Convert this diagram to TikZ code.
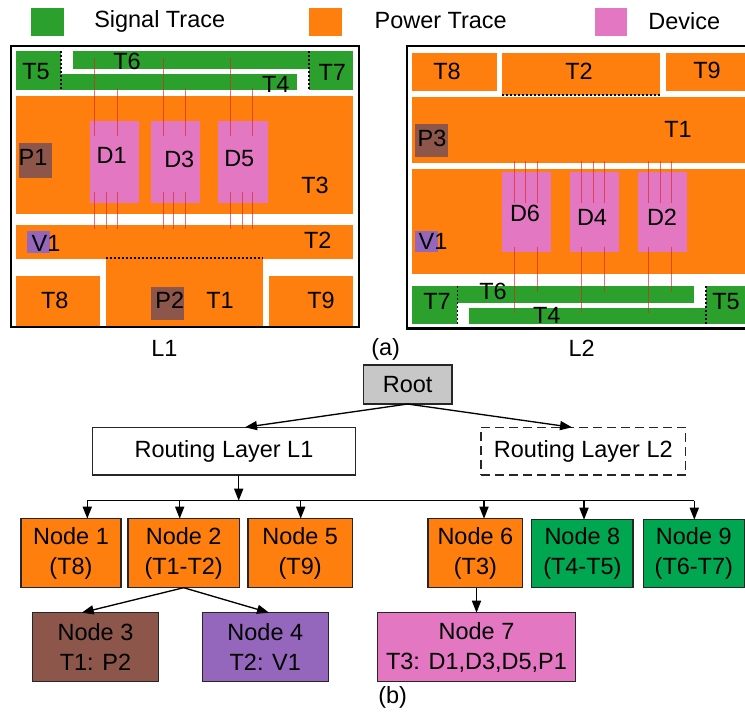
\documentclass[tikz,border=0pt]{standalone}
\usepackage{fontspec}
\setmainfont{Liberation Sans}
\usetikzlibrary{arrows.meta}
\definecolor{sig}{HTML}{2CA02C}
\definecolor{pow}{HTML}{FF7F0E}
\definecolor{dev}{HTML}{E377C2}
\definecolor{pad}{HTML}{8C564B}
\definecolor{via}{HTML}{9467BD}
\definecolor{nodegreen}{HTML}{00A650}
\definecolor{rootgray}{HTML}{C7C7C7}
\definecolor{wire}{HTML}{D62728}
\tikzset{
  x=0.75pt,y=-0.75pt,
  every node/.style={font=\fontsize{17.6}{22.5}\selectfont,inner sep=0pt,outer sep=0pt},
  area/.style={rectangle,inner sep=0pt,outer sep=0pt,align=center},
  sigarea/.style={area,fill=sig},
  powarea/.style={area,fill=pow},
  devarea/.style={area,fill=dev},
  padarea/.style={area,fill=pad},
  viaarea/.style={area,fill=via},
  frame/.style={draw=black,line width=2.1pt},
  seam/.style={draw=black,line width=1.2pt,dash pattern=on 1.8pt off 1.2pt},
  wirebond/.style={draw=wire,line width=0.75pt,opacity=0.65},
  treebox/.style={area,draw=black!85,line width=1.1pt},
  arr/.style={draw=black,line width=1pt,-{Triangle[length=9pt,width=6.8pt]}},
  lab/.style={anchor=center},
}
% \bxn{style}{name}{x1}{y1}{x2}{y2}{text}
\newcommand{\bxn}[7]{%
  \pgfmathsetlengthmacro{\bw}{(#5-#3)*0.75pt}%
  \pgfmathsetlengthmacro{\bh}{(#6-#4)*0.75pt}%
  \node[#1,minimum width=\bw,minimum height=\bh] (#2) at ({(#3+#5)/2},{(#4+#6)/2}) {#7};}
\begin{document}
\begin{tikzpicture}
\useasboundingbox (0,0) rectangle (745,711);
% legend
\bxn{sigarea}{legS}{31}{8}{63.5}{36}{}
\bxn{powarea}{legP}{309}{8}{342}{36}{}
\bxn{devarea}{legD}{595}{8}{627}{36}{}
\node[lab] (legSt) at (159.7,21) {Signal Trace};
\node[lab] (legPt) at (440.7,21) {Power Trace};
\node[lab] (legDt) at (684.3,21) {Device};

% ---- L1 ----
\bxn{sigarea}{aT5}{15.5}{51}{60.7}{90}{}
\bxn{sigarea}{aT7}{309}{51}{353}{90}{}
\bxn{sigarea}{aT6}{72.7}{51}{309}{68.5}{}
\bxn{sigarea}{aT4}{60.7}{74}{297.3}{90}{}
\bxn{powarea}{aT3}{15.5}{96}{353}{214}{}
\bxn{powarea}{aT2}{15.5}{225.3}{353}{258.7}{}
\bxn{powarea}{aT1}{105.7}{258}{263}{326}{}
\bxn{powarea}{aT8}{15.5}{276}{100}{326}{}
\bxn{powarea}{aT9}{268.7}{276}{353}{326}{}
\bxn{devarea}{aD1}{89.7}{120.7}{138.7}{202.7}{}
\bxn{devarea}{aD3}{151.3}{120.7}{200.3}{202.7}{}
\bxn{devarea}{aD5}{218.3}{120.7}{267.7}{202.7}{}
\bxn{padarea}{aP1}{19}{143.3}{52}{177.7}{}
\bxn{padarea}{aP2}{151.3}{287}{184.3}{320}{}
\bxn{viaarea}{aV1}{27}{231.3}{49.7}{252.7}{}
\foreach \x in {94.7,163,230.5} \draw[wirebond] (\x,58) -- (\x,136);
\foreach \x in {117.3,185,252} \draw[wirebond] (\x,88) -- (\x,136);
\foreach \x in {94.7,106,117.3,163,173.5,185,230.5,242,252} \draw[wirebond] (\x,192) -- (\x,228.5);
\draw[seam] (60.7,51) -- (60.7,90);
\draw[seam] (309,51) -- (309,90);
\draw[seam] (105.7,258) -- (263,258);
\draw[frame] (11,46) rectangle (359,327);
\node[lab] (lT5) at (36,71.7) {T5};
\node[lab] (lT6) at (127,61) {T6};
\node[lab] (lT7) at (332.3,72.7) {T7};
\node[lab] (lT4) at (275.7,84) {T4};
\node[lab] (lP1) at (33,157.7) {P1};
\node[lab] (lD1) at (111.7,155.7) {D1};
\node[lab] (lD3) at (179.3,159) {D3};
\node[lab] (lD5) at (239.3,159) {D5};
\node[lab] (lT3) at (315,185.7) {T3};
\node[lab] (lV1) at (46,243) {V1};
\node[lab] (lT2) at (317.7,240) {T2};
\node[lab] (lT8) at (54.7,300.7) {T8};
\node[lab] (lP2) at (169.7,300.7) {P2};
\node[lab] (lT1) at (220,300.7) {T1};
\node[lab] (lT9) at (321,300.7) {T9};
\node[lab] (lL1) at (164.3,348) {L1};

% ---- L2 ----
\bxn{powarea}{bT8}{411.7}{52.7}{496.7}{90.7}{}
\bxn{powarea}{bT2}{502}{52.7}{659.7}{95}{}
\bxn{powarea}{bT9}{665.5}{52.7}{750}{90.7}{}
\bxn{powarea}{bT1}{411.7}{96.5}{750}{162.7}{}
\bxn{powarea}{bT3}{411.7}{168.7}{750}{274.3}{}
\bxn{devarea}{bD6}{502}{171.7}{551}{251.7}{}
\bxn{devarea}{bD4}{569.7}{171.7}{619}{251.7}{}
\bxn{devarea}{bD2}{638}{171.7}{687.3}{251.7}{}
\bxn{padarea}{bP3}{415}{124.3}{448.3}{157.3}{}
\bxn{viaarea}{bV1}{415}{230.7}{438}{251.7}{}
\bxn{sigarea}{bT7}{411.7}{286}{457.3}{324}{}
\bxn{sigarea}{bT6}{457.3}{286}{694.3}{302.7}{}
\bxn{sigarea}{bT4}{469}{308.3}{706}{324}{}
\bxn{sigarea}{bT5}{706}{286}{750}{324}{}
\foreach \x in {514,525.3,537,581.3,593,604.3,648.7,660.3,671.7} \draw[wirebond] (\x,161) -- (\x,202.7);
\foreach \x in {514,581.3,648.7} \draw[wirebond] (\x,246.7) -- (\x,313.3);
\foreach \x in {537,604.3,671.7} \draw[wirebond] (\x,246.7) -- (\x,292.3);
\draw[seam] (457.3,286) -- (457.3,324);
\draw[seam] (706,286) -- (706,324);
\draw[seam] (502,95) -- (659.7,95);
\draw[frame] (750,46) -- (407,46) -- (407,328.5) -- (750,328.5);
\node[lab] (mT8) at (447,71) {T8};
\node[lab] (mT2) at (579,71) {T2};
\node[lab] (mT9) at (707,70) {T9};
\node[lab] (mT1) at (678,129) {T1};
\node[lab] (mP3) at (432,138) {P3};
\node[lab] (mD6) at (525,213) {D6};
\node[lab] (mD4) at (592,217) {D4};
\node[lab] (mD2) at (662,217) {D2};
\node[lab] (mV1) at (433,241) {V1};
\node[lab] (mT7) at (437,301.7) {T7};
\node[lab] (mT6) at (493,291.7) {T6};
\node[lab] (mT4) at (546.7,315) {T4};
\node[lab] (mT5) at (726,302) {T5};
\node[lab] (mL2) at (581.7,348) {L2};
\node[lab] (capa) at (385.7,349) {(a)};

% ---- tree ----
\bxn{treebox,fill=rootgray}{root}{363.3}{365}{452}{404}{Root}
\bxn{treebox,fill=white}{rl1}{92.7}{427.3}{355.3}{475}{Routing Layer L1}
\bxn{treebox,fill=white,dash pattern=on 6.5pt off 4pt}{rl2}{481}{427.3}{685.7}{475}{Routing Layer L2}
\bxn{treebox,fill=pow}{n1}{21}{518.7}{121}{587.7}{Node 1\\(T8)}
\bxn{treebox,fill=pow}{n2}{128}{518.7}{239.3}{587.7}{Node 2\\(T1-T2)}
\bxn{treebox,fill=pow}{n5}{248}{518.7}{352.3}{587.7}{Node 5\\(T9)}
\bxn{treebox,fill=pow}{n6}{428}{518.7}{522.7}{587.7}{Node 6\\(T3)}
\bxn{treebox,fill=nodegreen}{n8}{531.7}{519.7}{633}{587.7}{Node 8\\(T4-T5)}
\bxn{treebox,fill=nodegreen}{n9}{643.3}{519.7}{744.3}{587.7}{Node 9\\(T6-T7)}
\bxn{treebox,fill=pad}{n3}{32.7}{612.7}{158.3}{681.3}{Node 3\\T1: P2}
\bxn{treebox,fill=via}{n4}{202.3}{612.7}{328.3}{681.3}{Node 4\\T2: V1}
\bxn{treebox,fill=dev}{n7}{377.7}{612.7}{575.3}{681.3}{Node 7\\T3: D1,D3,D5,P1}
\node[lab] (capb) at (392.7,697) {(b)};

% bus
\coordinate (busc) at (238.7,500.7);
\coordinate (b1) at (87.3,500.7);
\coordinate (b2) at (179.7,500.7);
\coordinate (b5) at (300.7,500.7);
\coordinate (b6) at (484,500.7);
\coordinate (b8) at (584,500.7);
\coordinate (b9) at (694.3,500.7);
\draw[arr] (root.south) -- ([xshift=15.75pt]rl1.north);
\draw[arr] (root.south) -- ([xshift=-8.5pt]rl2.north);
\draw[arr] (busc |- rl1.south) -- (busc);
\draw[line width=1pt] (b1) -- (b9);
\draw[arr] (b1) -- (b1 |- n1.north);
\draw[arr] (b2) -- (b2 |- n2.north);
\draw[arr] (b5) -- (b5 |- n5.north);
\draw[arr] (b6) -- (b6 |- n6.north);
\draw[arr] (b8) -- (b8 |- n8.north);
\draw[arr] (b9) -- (b9 |- n9.north);
\draw[arr] (n2.south) -- ([xshift=-10.35pt]n3.north);
\draw[arr] (n2.south) -- ([xshift=2.8pt]n4.north);
\draw[arr] (n7.north |- n6.south) -- (n7.north);
\end{tikzpicture}
\end{document}
